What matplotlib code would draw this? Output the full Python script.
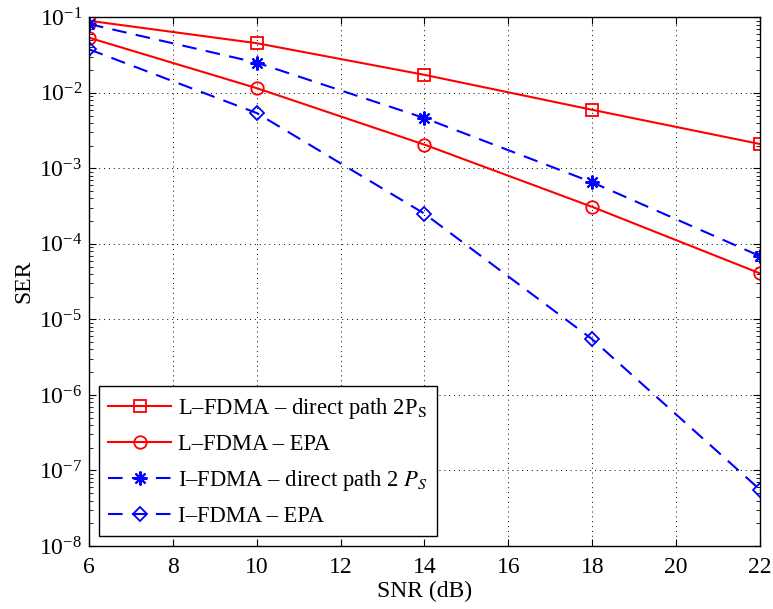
import numpy as np
import matplotlib
matplotlib.use("Agg")
from matplotlib import pyplot as plt
from matplotlib.ticker import LogLocator, NullFormatter

plt.rcParams['font.family'] = ['Liberation Serif', 'DejaVu Serif']
plt.rcParams['mathtext.fontset'] = 'stix'

# data
snr = [6, 10, 14, 18, 22]
ser_lfdma_direct = [0.090, 0.0454, 0.0173, 0.00596, 0.0021]
ser_lfdma_epa = [0.0537, 0.01153, 0.00206, 3.09e-4, 4.07e-5]
ser_ifdma_direct = [0.0815, 0.0251, 0.00463, 6.53e-4, 6.89e-5]
ser_ifdma_epa = [0.0377, 0.0054, 2.51e-4, 5.46e-6, 5.57e-8]

labels = ["L\u2013FDMA \u2013 direct path 2P$_{\\mathrm{S}}$",
          "L\u2013FDMA \u2013 EPA",
          "I\u2013FDMA \u2013 direct path 2 $P_S$",
          "I\u2013FDMA \u2013 EPA"]

fig = plt.figure(figsize=(7.73, 6.09), dpi=100)
ax = fig.add_axes([0.1151, 0.1034, 0.8681, 0.8682])

dash = (0, (7, 4.5))
asterisk = (8, 2, 0)
ax.semilogy(snr, ser_lfdma_direct, color='red', lw=1.5, marker='s', ms=8,
            mfc='none', mew=1.3, label=labels[0])
ax.semilogy(snr, ser_lfdma_epa, color='red', lw=1.5, marker='o', ms=9,
            mfc='none', mew=1.3, label=labels[1])
ax.semilogy(snr, ser_ifdma_direct, color='blue', lw=1.5, ls=dash, marker=asterisk,
            ms=10, mew=1.5, label=labels[2])
ax.semilogy(snr, ser_ifdma_epa, color='blue', lw=1.5, ls=dash, marker='D',
            ms=7.5, mfc='none', mew=1.3, label=labels[3])

ax.set_xlim(6, 22)
ax.set_ylim(1e-8, 1e-1)
ax.set_xticks(np.arange(6, 23, 2))
ax.yaxis.set_major_locator(LogLocator(base=10, numticks=20))
ax.yaxis.set_minor_locator(LogLocator(base=10, subs=np.arange(2, 10), numticks=20))
ax.yaxis.set_minor_formatter(NullFormatter())

ax.grid(True, which='major', color='black', ls=(0, (1, 4)), lw=0.7)
ax.tick_params(which='both', direction='in', top=True, right=True, labelsize=17)
ax.tick_params(axis='y', pad=5)
ax.tick_params(axis='x', pad=8)
ax.tick_params(which='major', length=5)
ax.tick_params(which='minor', length=3)
for s in ax.spines.values():
    s.set_linewidth(1.0)

ax.set_xlabel("SNR (dB)", fontsize=17, labelpad=2)
ax.set_ylabel("SER", fontsize=17, labelpad=3)

leg = ax.legend(loc='lower left', bbox_to_anchor=(0.015, 0.019), borderaxespad=0,
                fontsize=16.3, fancybox=False, edgecolor='black', framealpha=1,
                handlelength=2.8, handletextpad=0.3, labelspacing=0.58)
leg.get_frame().set_linewidth(1.0)

plt.savefig('out.png', dpi=100)
